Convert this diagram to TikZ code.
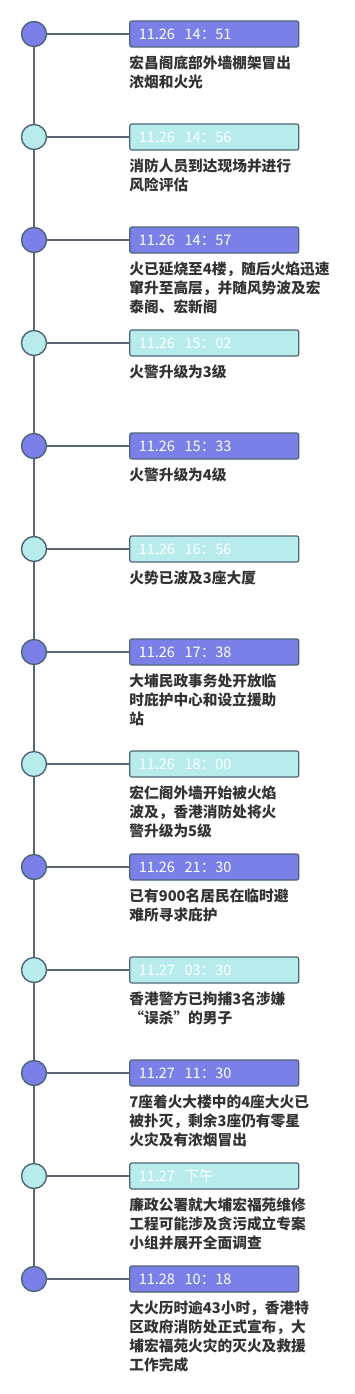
\documentclass[tikz,border=0pt]{standalone}
\usepackage{fontspec}
\setmainfont{Noto Sans CJK SC}
\usetikzlibrary{positioning}
\definecolor{slate}{HTML}{4E6577}
\definecolor{spine}{HTML}{5C6670}
\definecolor{iris}{HTML}{7A80E8}
\definecolor{aqua}{HTML}{B8ECEC}
\definecolor{ink}{HTML}{333333}

\begin{document}
\begin{tikzpicture}[x=1pt,y=-1pt,
  dot/.style={circle,draw=slate,line width=1.4pt,fill=#1,minimum size=25pt,inner sep=0pt},
  stamp/.style={draw=slate,line width=1.2pt,fill=#1,rounded corners=2pt,minimum height=26pt,inner xsep=9pt,text width=151pt,align=left,text=white,font=\fontsize{14.5}{16}\selectfont},
  event/.style={font=\fontsize{14.7}{19}\selectfont\bfseries,text=ink,align=left,inner sep=0pt},
  link/.style={draw=spine,line width=1.6pt}]
\useasboundingbox (0,0) rectangle (355,1394);
% timeline dots
\node[dot=iris] (c1) at (34,34) {};
\node[dot=aqua] (c2) at (34,137) {};
\node[dot=iris] (c3) at (34,240) {};
\node[dot=aqua] (c4) at (34,343) {};
\node[dot=iris] (c5) at (34,446) {};
\node[dot=aqua] (c6) at (34,549) {};
\node[dot=iris] (c7) at (34,652) {};
\node[dot=aqua] (c8) at (34,764) {};
\node[dot=iris] (c9) at (34,867) {};
\node[dot=aqua] (c10) at (34,970) {};
\node[dot=iris] (c11) at (34,1073) {};
\node[dot=aqua] (c12) at (34,1176) {};
\node[dot=iris] (c13) at (34,1279) {};
% time stamps
\node[stamp=iris,right=82pt of c1] (b1) {11.26\ \ 14：51};
\node[stamp=aqua,right=82pt of c2] (b2) {11.26\ \ 14：56};
\node[stamp=iris,right=82pt of c3] (b3) {11.26\ \ 14：57};
\node[stamp=aqua,right=82pt of c4] (b4) {11.26\ \ 15：02};
\node[stamp=iris,right=82pt of c5] (b5) {11.26\ \ 15：33};
\node[stamp=aqua,right=82pt of c6] (b6) {11.26\ \ 16：56};
\node[stamp=iris,right=82pt of c7] (b7) {11.26\ \ 17：38};
\node[stamp=aqua,right=82pt of c8] (b8) {11.26\ \ 18：00};
\node[stamp=iris,right=82pt of c9] (b9) {11.26\ \ 21：30};
\node[stamp=aqua,right=82pt of c10] (b10) {11.27\ \ 03：30};
\node[stamp=iris,right=82pt of c11] (b11) {11.27\ \ 11：30};
\node[stamp=aqua,right=82pt of c12] (b12) {11.27\ \ 下午};
\node[stamp=iris,right=82pt of c13] (b13) {11.28\ \ 10：18};
% descriptions
\node[event,below=8pt of b1.south west,anchor=north west] (t1) {宏昌阁底部外墙棚架冒出\\浓烟和火光};
\node[event,below=8pt of b2.south west,anchor=north west] (t2) {消防人员到达现场并进行\\风险评估};
\node[event,below=8pt of b3.south west,anchor=north west] (t3) {火已延烧至4楼，随后火焰迅速\\窜升至高层，并随风势波及宏\\泰阁、宏新阁};
\node[event,below=8pt of b4.south west,anchor=north west] (t4) {火警升级为3级};
\node[event,below=8pt of b5.south west,anchor=north west] (t5) {火警升级为4级};
\node[event,below=8pt of b6.south west,anchor=north west] (t6) {火势已波及3座大厦};
\node[event,below=8pt of b7.south west,anchor=north west] (t7) {大埔民政事务处开放临\\时庇护中心和设立援助\\站};
\node[event,below=8pt of b8.south west,anchor=north west] (t8) {宏仁阁外墙开始被火焰\\波及，香港消防处将火\\警升级为5级};
\node[event,below=8pt of b9.south west,anchor=north west] (t9) {已有900名居民在临时避\\难所寻求庇护};
\node[event,below=8pt of b10.south west,anchor=north west] (t10) {香港警方已拘捕3名涉嫌\\“误杀”的男子};
\node[event,below=8pt of b11.south west,anchor=north west] (t11) {7座着火大楼中的4座大火已\\被扑灭，剩余3座仍有零星\\火灾及有浓烟冒出};
\node[event,below=8pt of b12.south west,anchor=north west] (t12) {廉政公署就大埔宏福苑维修\\工程可能涉及贪污成立专案\\小组并展开全面调查};
\node[event,below=8pt of b13.south west,anchor=north west] (t13) {大火历时逾43小时，香港特\\区政府消防处正式宣布，大\\埔宏福苑火灾的灭火及救援\\工作完成};
% spine and ties
\draw[link] (c1.south)--(c2.north) (c2.south)--(c3.north) (c3.south)--(c4.north) (c4.south)--(c5.north)
  (c5.south)--(c6.north) (c6.south)--(c7.north) (c7.south)--(c8.north) (c8.south)--(c9.north)
  (c9.south)--(c10.north) (c10.south)--(c11.north) (c11.south)--(c12.north) (c12.south)--(c13.north);
\draw[link] (c1)--(b1) (c2)--(b2) (c3)--(b3) (c4)--(b4) (c5)--(b5) (c6)--(b6) (c7)--(b7)
  (c8)--(b8) (c9)--(b9) (c10)--(b10) (c11)--(b11) (c12)--(b12) (c13)--(b13);
\end{tikzpicture}
\end{document}
